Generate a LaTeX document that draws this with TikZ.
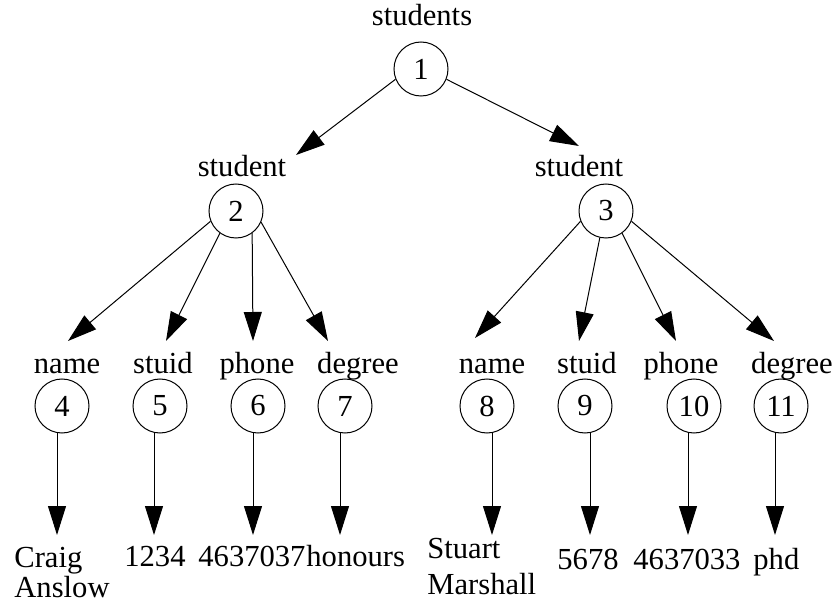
\documentclass[tikz,border=0pt]{standalone}
\usepackage{fontspec}
\setmainfont{Liberation Serif}
\usetikzlibrary{arrows.meta}

\begin{document}
\begin{tikzpicture}[
    x=0.5pt, y=-0.5pt,
    every node/.style={font=\fontsize{15.3}{18}\selectfont},
    elem/.style={draw=black, circle, line width=0.5pt, minimum size=27pt,
                 inner sep=0pt},
    tag/.style={anchor=base, inner sep=0pt},
    val/.style={anchor=base west, inner sep=0pt, align=left},
    arr/.style={-{Triangle[length=14.5pt, width=9pt]}, line width=0.5pt, black}
]
\useasboundingbox (0,0) rectangle (837,610);

% Niveau 1 : students
\node[elem] (n1) at (421,69) {1};
\node[tag]  (l1) at (422,26) {students};

% Niveau 2 : student
\node[elem] (n2) at (236,211) {2};
\node[elem] (n3) at (606,211) {3};
\node[tag]  (l2) at (242,177) {student};
\node[tag]  (l3) at (579,177) {student};

% Niveau 3 : champs
\foreach \i/\x/\lx/\t in {4/62/67/name, 5/160/163/stuid, 6/258/257/phone,
    7/345/358/degree, 8/487/492/name, 9/585/587/stuid, 10/694/681/phone,
    11/781/792/degree} {
    \node[elem] (n\i) at (\x,406) {\i};
    \node[tag]  (l\i) at (\lx,373) {\t};
}

% Valeurs
\node[val] (v4)  at (14,597)  {Craig\\[-3pt]Anslow};
\node[val] (v5)  at (124,567) {1234};
\node[val] (v6)  at (198,567) {4637037};
\node[val] (v7)  at (306,567) {honours};
\node[val] (v8)  at (427,595) {Stuart\\[0.5pt]Marshall};
\node[val] (v9)  at (557,569) {5678};
\node[val] (v10) at (633,569) {4637033};
\node[val] (v11) at (753,569) {phd};

% Pointes des flèches
\coordinate (t2) at (296,155);
\coordinate (t3) at (579,146);
\foreach \i/\x/\y in {4/68/341, 5/166/341, 6/253/341, 7/328/341,
    8/475/338, 9/579/341, 10/676/341, 11/774/341}
    \coordinate (t\i) at (\x,\y);
\foreach \i/\x in {4/57, 5/154, 6/253, 7/340, 8/492, 9/590, 10/688, 11/775}
    \coordinate (s\i) at (\x,535);

% Flèches students -> student
\draw[arr] (n1.202) -- (t2);
\draw[arr] (n1.338) -- (t3);

% Flèches student -> champs
\foreach \i/\a in {4/202, 5/234, 6/306, 7/336}
    \draw[arr] (n2.\a) -- (t\i);
\foreach \i/\a in {8/202, 9/257, 10/306, 11/338}
    \draw[arr] (n3.\a) -- (t\i);

% Flèches champs -> valeurs
\foreach \i in {4,...,11}
    \draw[arr] (n\i.south -| s\i) -- (s\i);

\end{tikzpicture}
\end{document}
